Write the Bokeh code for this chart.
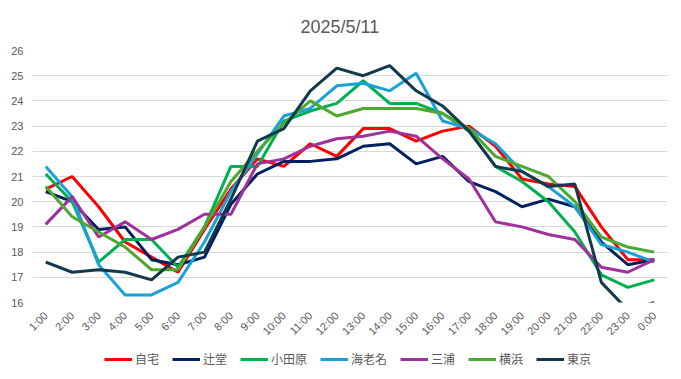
from bokeh.plotting import figure
from bokeh.models import Range1d, FactorRange, SingleIntervalTicker, Legend, LegendItem
from bokeh.layouts import column
from bokeh.embed import file_html
from bokeh.resources import INLINE
from math import pi

hours = ["1:00", "2:00", "3:00", "4:00", "5:00", "6:00", "7:00", "8:00", "9:00", "10:00",
         "11:00", "12:00", "13:00", "14:00", "15:00", "16:00", "17:00", "18:00", "19:00",
         "20:00", "21:00", "22:00", "23:00", "0:00"]

jitaku = [20.5, 21.0, 19.8, 18.4, 17.8, 17.2, 18.9, 20.5, 21.7, 21.4, 22.3, 21.8, 22.9, 22.9,
          22.4, 22.8, 23.0, 22.2, 20.9, 20.7, 20.6, 19.0, 17.7, 17.7]
tsujido = [20.4, 20.0, 18.9, 19.0, 17.7, 17.5, 17.8, 19.9, 21.1, 21.6, 21.6, 21.7, 22.2, 22.3,
           21.5, 21.8, 20.8, 20.4, 19.8, 20.1, 19.8, 18.4, 17.5, 17.7]
odawara = [21.1, 20.0, 17.6, 18.5, 18.5, 17.4, 19.0, 21.4, 21.4, 23.2, 23.6, 23.9, 24.8, 23.9,
           23.9, 23.5, 22.8, 21.4, 20.8, 20.0, 18.8, 17.1, 16.6, 16.9]
ebina = [21.4, 20.2, 17.5, 16.3, 16.3, 16.8, 18.4, 20.4, 21.9, 23.4, 23.7, 24.6, 24.7, 24.4,
         25.1, 23.2, 22.9, 22.3, 21.2, 20.6, 19.8, 18.3, 18.0, 17.6]
miura = [19.1, 20.2, 18.6, 19.2, 18.5, 18.9, 19.5, 19.5, 21.5, 21.7, 22.2, 22.5, 22.6, 22.8,
         22.6, 21.7, 20.9, 19.2, 19.0, 18.7, 18.5, 17.4, 17.2, 17.7]
yokohama = [20.6, 19.4, 18.8, 18.2, 17.3, 17.3, 19.0, 20.8, 22.0, 23.1, 24.0, 23.4, 23.7, 23.7,
            23.7, 23.5, 22.9, 21.8, 21.4, 21.0, 20.0, 18.6, 18.2, 18.0]
tokyo = [17.6, 17.2, 17.3, 17.2, 16.9, 17.8, 18.0, 20.1, 22.4, 22.9, 24.4, 25.3, 25.0, 25.4,
         24.4, 23.8, 22.8, 21.4, 21.2, 20.6, 20.7, 16.8, 15.7, 16.0]

names = ["自宅", "辻堂", "小田原", "海老名", "三浦", "横浜", "東京"]
series = [jitaku, tsujido, odawara, ebina, miura, yokohama, tokyo]
colors = ["#FF0000", "#002060", "#00B050", "#19A1DA", "#A0309A", "#4EA72E", "#12394C"]

GRAY = "#595959"

# main chart
p = figure(width=672, height=344, x_range=FactorRange(factors=hours, range_padding=0),
           y_range=Range1d(16, 26), output_backend="svg", toolbar_location=None,
           min_border_left=32, min_border_right=5, min_border_top=49, min_border_bottom=42)
p.outline_line_color = None

p.title.text = "2025/5/11"
p.title.align = "left"
p.title.text_font = "Liberation Sans"
p.title.text_font_size = "18px"
p.title.text_font_style = "normal"
p.title.text_color = GRAY
p.title.offset = 268
p.title.standoff = 28

p.yaxis.ticker = SingleIntervalTicker(interval=1)
p.yaxis.axis_line_color = None
p.yaxis.major_tick_line_color = None
p.yaxis.minor_tick_line_color = None
p.yaxis.major_tick_out = 0
p.yaxis.major_label_standoff = 5
p.yaxis.major_label_text_font = "Liberation Sans"
p.yaxis.major_label_text_font_size = "11px"
p.yaxis.major_label_text_color = GRAY

p.xaxis.axis_line_color = None
p.xaxis.major_tick_line_color = None
p.xaxis.minor_tick_line_color = None
p.xaxis.major_tick_out = 0
p.xaxis.major_label_standoff = 11
p.xaxis.major_label_orientation = pi / 4
p.xaxis.major_label_text_font = "Liberation Sans"
p.xaxis.major_label_text_font_size = "11px"
p.xaxis.major_label_text_color = GRAY

p.xgrid.grid_line_color = None
p.ygrid.grid_line_color = "#D9D9D9"
p.ygrid.grid_line_width = 1

for vals, col in zip(series, colors):
    p.line(x=hours, y=vals, line_color=col, line_width=3)

# legend strip (its own lines sit outside its visible range; only the legend shows)
q = figure(width=672, height=35, x_range=FactorRange(factors=hours, range_padding=0),
           y_range=Range1d(100, 101), output_backend="svg", toolbar_location=None,
           min_border=0, min_border_left=0, min_border_right=0, min_border_top=0,
           min_border_bottom=0)
q.axis.visible = False
q.grid.visible = False
q.outline_line_color = None

items = []
for name, vals, col in zip(names, series, colors):
    r = q.line(x=hours, y=vals, line_color=col, line_width=3)
    items.append(LegendItem(label=name, renderers=[r]))

legend = Legend(items=items, orientation="horizontal", location=(72, 12),
                glyph_width=28, glyph_height=14, label_standoff=3, spacing=13,
                padding=0, margin=0, border_line_color=None, background_fill_alpha=0,
                label_text_font="Noto Sans CJK JP", label_text_font_size="12px",
                label_text_color=GRAY)
q.add_layout(legend, "center")

layout = column(p, q, spacing=0)
open("out.html", "w").write(file_html(layout, INLINE))
